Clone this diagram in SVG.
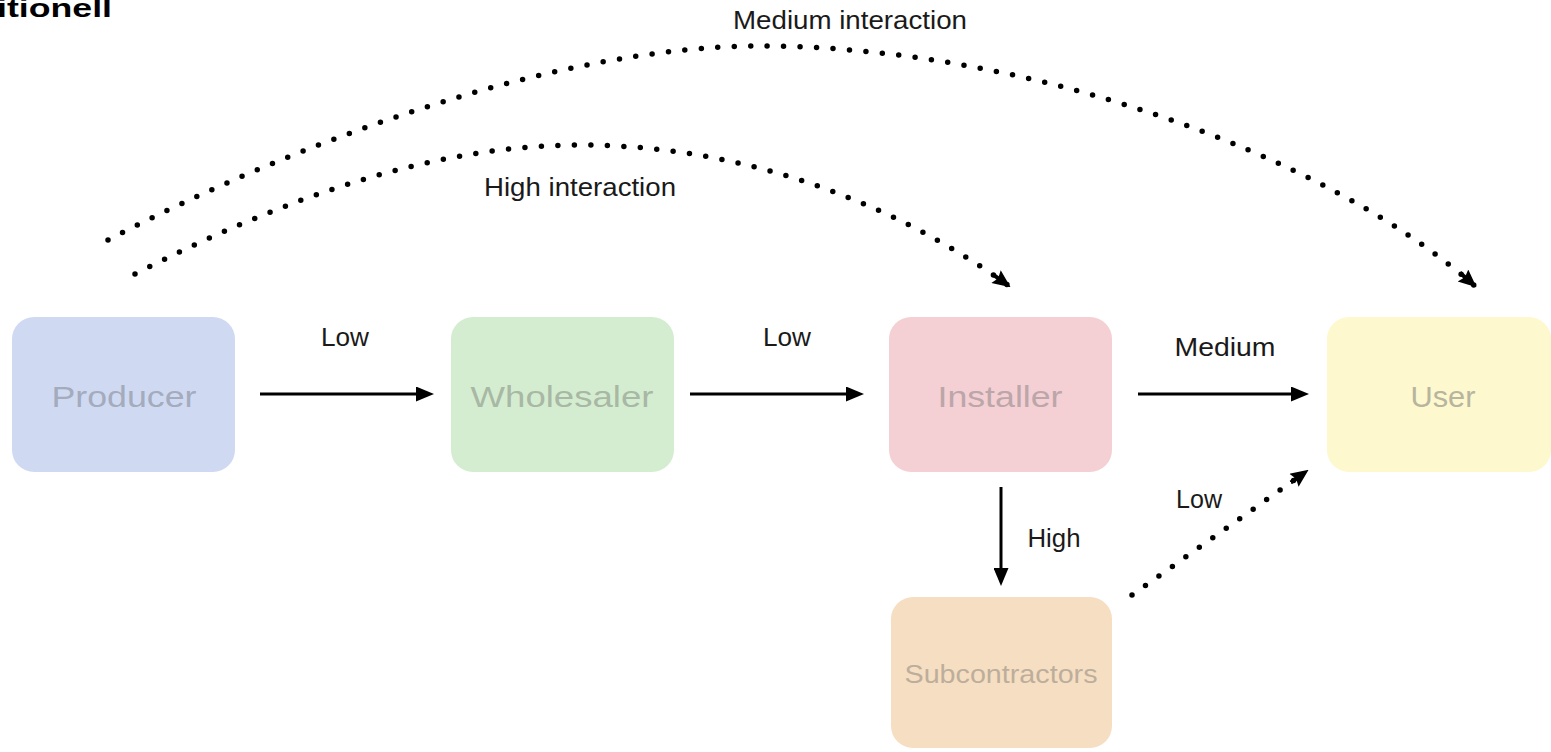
<svg xmlns="http://www.w3.org/2000/svg" width="1551" height="752" viewBox="0 0 1551 752">
  <style>
    .node rect { stroke: none; }
    .nlabel { font-family: "Liberation Sans", Arial, sans-serif; font-size: 30px; text-anchor: middle; }
    .elabel { font-family: "Liberation Sans", Arial, sans-serif; font-size: 26px; fill: #1a1a1a; text-anchor: middle; }
    .solid { fill: none; stroke: #000; stroke-width: 3; }
    .dotted { fill: none; stroke: #000; stroke-width: 5.5; stroke-linecap: round; stroke-dasharray: 0 16.5; }
  </style>
  <defs>
    <marker id="arrow" viewBox="0 0 18 15" refX="1" refY="7.5" markerWidth="18" markerHeight="15" markerUnits="userSpaceOnUse" orient="auto">
      <path d="M0,0 L18,7.5 L0,15 Z" fill="#000"/>
    </marker>
    <marker id="darrow" viewBox="0 0 22 16" refX="20" refY="8" markerWidth="22" markerHeight="16" markerUnits="userSpaceOnUse" orient="auto">
      <path d="M0,6 L6,6 L4,0 L22,8 L4,16 L6,10 L0,10 Z" fill="#000"/>
    </marker>
  </defs>
  <rect width="1551" height="752" fill="#fff"/>

  <text x="-3" y="17" font-family="'Liberation Sans', Arial, sans-serif" font-size="25" font-weight="bold" fill="#000" textLength="115" lengthAdjust="spacingAndGlyphs">itionell</text>

  <g id="connectors">
    <path class="solid" d="M260,394 L417,394" marker-end="url(#arrow)"/>
    <path class="solid" d="M690,394 L847,394" marker-end="url(#arrow)"/>
    <path class="solid" d="M1138,394 L1292,394" marker-end="url(#arrow)"/>
    <path class="solid" d="M1001,487 L1001,569" marker-end="url(#arrow)"/>
    <path class="dotted" d="M1132,595 L1307,471" marker-end="url(#darrow)"/>
    <path class="dotted" d="M135,274 C280,200 430,145 580,145 C740,145 890,200 1009,286" marker-end="url(#darrow)"/>
    <path class="dotted" d="M108,240 C300,140 560,46 760,46 C1020,46 1320,150 1475,286" marker-end="url(#darrow)"/>
    <text class="elabel" x="345" y="346" textLength="48" lengthAdjust="spacingAndGlyphs">Low</text>
    <text class="elabel" x="787" y="346" textLength="48" lengthAdjust="spacingAndGlyphs">Low</text>
    <text class="elabel" x="1225" y="356" textLength="101" lengthAdjust="spacingAndGlyphs">Medium</text>
    <text class="elabel" x="1054" y="547" textLength="53" lengthAdjust="spacingAndGlyphs">High</text>
    <text class="elabel" x="1199" y="508" textLength="46" lengthAdjust="spacingAndGlyphs">Low</text>
    <text class="elabel" x="580" y="196" textLength="192" lengthAdjust="spacingAndGlyphs">High interaction</text>
    <text class="elabel" x="850" y="29" textLength="234" lengthAdjust="spacingAndGlyphs">Medium interaction</text>
  </g>

  <g id="producer" class="node">
    <rect x="12" y="317" width="223" height="155" rx="22" fill="#cfdaf2"/>
    <text class="nlabel" x="124" y="407" fill="#a3abbd" textLength="145" lengthAdjust="spacingAndGlyphs">Producer</text>
  </g>
  <g id="wholesaler" class="node">
    <rect x="451" y="317" width="223" height="155" rx="22" fill="#d4edd0"/>
    <text class="nlabel" x="562" y="407" fill="#a8b8a5" textLength="183" lengthAdjust="spacingAndGlyphs">Wholesaler</text>
  </g>
  <g id="installer" class="node">
    <rect x="889" y="317" width="223" height="155" rx="22" fill="#f4d0d4"/>
    <text class="nlabel" x="1000" y="407" fill="#bba6a9" textLength="125" lengthAdjust="spacingAndGlyphs">Installer</text>
  </g>
  <g id="user" class="node">
    <rect x="1327" y="317" width="224" height="155" rx="22" fill="#fdf8ce"/>
    <text class="nlabel" x="1443" y="407" fill="#b7b59e" textLength="65" lengthAdjust="spacingAndGlyphs">User</text>
  </g>
  <g id="subcontractors" class="node">
    <rect x="891" y="597" width="221" height="151" rx="22" fill="#f6dec2"/>
    <text class="nlabel" x="1001" y="683" fill="#bdae9c" style="font-size:25px" textLength="193" lengthAdjust="spacingAndGlyphs">Subcontractors</text>
  </g>
</svg>
